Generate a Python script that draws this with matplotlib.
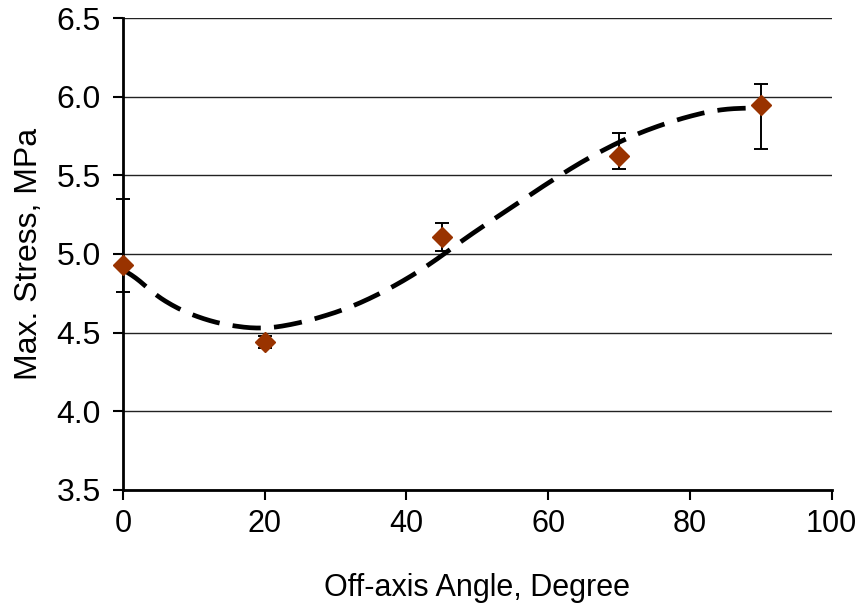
import matplotlib
matplotlib.use("Agg")
import matplotlib.pyplot as plt
import numpy as np

plt.rcParams['font.family'] = ['Liberation Sans', 'DejaVu Sans']

# measured data
angle = [0, 20, 45, 70, 90]
stress = [4.93, 4.44, 5.11, 5.62, 5.95]
err_low = [0.17, 0.04, 0.09, 0.08, 0.28]
err_high = [0.42, 0.04, 0.09, 0.15, 0.13]

# trend curve
fit_x = [0, 3.1, 7.1, 13.0, 19.4, 25.0, 31.6, 37.3, 42.9, 48.6, 54.3, 59.9, 65.6, 71.7, 77.8, 83.9, 89.5]
fit_y = [4.93, 4.79, 4.66, 4.56, 4.52, 4.56, 4.65, 4.77, 4.92, 5.11, 5.28, 5.45, 5.61, 5.75, 5.85, 5.92, 5.93]

xticks = [0, 20, 40, 60, 80, 100]
yticks = [3.5, 4.0, 4.5, 5.0, 5.5, 6.0, 6.5]

fig = plt.figure(figsize=(8.6, 6.13), dpi=100)
ax = fig.add_axes([0.143, 0.2007, 0.824, 0.7699])

# smooth curve through read points
xs = np.linspace(0, 89.5, 300)
ys = np.interp(xs, fit_x, fit_y)
k = 9
ys_s = np.convolve(np.pad(ys, k, mode='edge'), np.ones(2*k+1)/(2*k+1), mode='valid')
ax.plot(xs, ys_s, color='black', lw=3.4, dashes=(6, 2.8), zorder=3)

ax.errorbar(angle, stress, yerr=[err_low, err_high], fmt='none', ecolor='black',
            elinewidth=1.4, capsize=5, capthick=1.4, zorder=4, clip_on=False)
ax.plot(angle, stress, linestyle='none', marker='D', markersize=10,
        color='#993300', markeredgecolor='#993300', zorder=5, clip_on=False)

ax.set_xlim(0, 100)
ax.set_ylim(3.5, 6.5)
ax.set_xticks(xticks)
ax.set_yticks(yticks)
ax.set_xticklabels([str(v) for v in xticks])
ax.set_yticklabels([f"{v:.1f}" for v in yticks])
ax.yaxis.grid(True, color='#222222', lw=1.0)
ax.set_axisbelow(True)
for s in ['top', 'right']:
    ax.spines[s].set_visible(False)
for s in ['left', 'bottom']:
    ax.spines[s].set_linewidth(2.0)
    ax.spines[s].set_color('black')
ax.tick_params(axis='both', direction='out', length=7, width=1.5, colors='black')
ax.tick_params(axis='x', pad=7, labelsize=22)
ax.tick_params(axis='y', pad=9, labelsize=23)

ax.set_xlabel('Off-axis Angle, Degree', fontsize=22, labelpad=24)
ax.set_ylabel('Max. Stress, MPa', fontsize=23, labelpad=9)

fig.savefig('out.png', dpi=100)
